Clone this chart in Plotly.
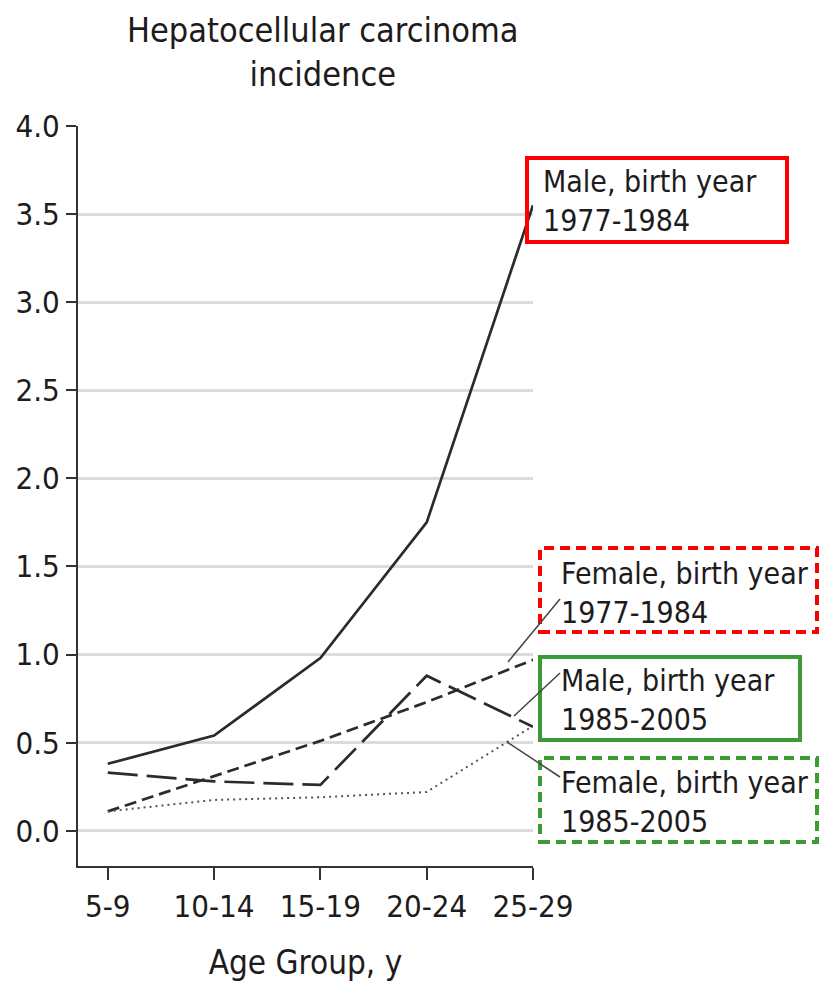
import plotly.graph_objects as go

age_groups = ['5-9', '10-14', '15-19', '20-24', '25-29']
male_1977 = [0.38, 0.54, 0.98, 1.75, 3.55]
female_1977 = [0.11, 0.31, 0.51, 0.73, 0.97]
male_1985 = [0.33, 0.28, 0.26, 0.88, 0.59]
female_1985 = [0.11, 0.175, 0.19, 0.22, 0.595]
y_ticks = [0.0, 0.5, 1.0, 1.5, 2.0, 2.5, 3.0, 3.5, 4.0]

FONT = "DejaVu Sans Condensed, Liberation Sans Narrow, sans-serif"
TEXT = '#1e1b1c'
LINE = '#2b2b2b'

# the page body adds an 8px margin, so the figure is drawn 8px in from the window corner
OFF = 8
W, H = 827 - OFF, 982 - OFF
L, R, T, B = 78 - OFF, 533 - OFF, 126 - OFF, 866 - OFF


def px(x):
    return (x - OFF - L) / (R - L)


def py(y):
    return (B - (y - OFF)) / (B - T)


fig = go.Figure()

fig.add_trace(go.Scatter(x=age_groups, y=male_1977, mode='lines',
                         line=dict(color=LINE, width=2.7), name='Male, birth year 1977-1984'))
fig.add_trace(go.Scatter(x=age_groups, y=female_1977, mode='lines',
                         line=dict(color=LINE, width=2.7, dash='12px,6px'), name='Female, birth year 1977-1984'))
fig.add_trace(go.Scatter(x=age_groups, y=male_1985, mode='lines',
                         line=dict(color=LINE, width=2.7, dash='30px,9px'), name='Male, birth year 1985-2005'))
fig.add_trace(go.Scatter(x=age_groups, y=female_1985, mode='lines',
                         line=dict(color='#555555', width=2, dash='2px,4px'), name='Female, birth year 1985-2005'))

# label boxes: (x0, y0, x1, y1) in window pixels, colour, dash
boxes = [
    ((527, 158, 787, 242), '#ff0000', 'solid'),
    ((540, 548, 817, 632), '#ff0000', '10px,6px'),
    ((540, 657, 800, 740), '#3d9b35', 'solid'),
    ((540, 758, 817, 842), '#3d9b35', '10px,6px'),
]
shapes = []
for (x0, y0, x1, y1), col, dash in boxes:
    shapes.append(dict(type='rect', xref='paper', yref='paper',
                       x0=px(x0), x1=px(x1), y0=py(y1), y1=py(y0),
                       line=dict(color=col, width=4, dash=dash), layer='above'))

# leader lines
leaders = [((508, 662), (560, 599)), ((514, 716), (560, 673)), ((507, 742), (560, 777))]
for (xa, ya), (xb, yb) in leaders:
    shapes.append(dict(type='line', xref='paper', yref='paper',
                       x0=px(xa), y0=py(ya), x1=px(xb), y1=py(yb),
                       line=dict(color='#444444', width=1.5), layer='above'))

labels = [
    ('Male, birth year<br>1977-1984', 541, 201),
    ('Female, birth year<br>1977-1984', 559, 593),
    ('Male, birth year<br>1985-2005', 559, 700),
    ('Female, birth year<br>1985-2005', 559, 802),
]
annotations = []
for txt, x, y in labels:
    annotations.append(dict(text=txt, xref='paper', yref='paper', x=px(x), y=py(y),
                            xanchor='left', yanchor='middle', align='left', showarrow=False,
                            font=dict(family=FONT, size=30, color=TEXT)))

annotations.append(dict(text='Hepatocellular carcinoma<br>incidence', xref='paper', yref='paper',
                        x=px(323), y=py(9), xanchor='center', yanchor='top', showarrow=False,
                        borderpad=0,
                        font=dict(family=FONT, size=34, color=TEXT)))

fig.update_layout(
    width=W, height=H,
    margin=dict(l=L, r=W - R, t=T, b=H - B),
    plot_bgcolor='white', paper_bgcolor='white',
    font=dict(family=FONT, size=31, color=TEXT),
    showlegend=False,
    shapes=shapes,
    annotations=annotations,
    xaxis=dict(
        type='category', range=[-0.28, 4.0], automargin=False,
        showline=True, linecolor='#333333', linewidth=2,
        ticks='outside', ticklen=12, tickwidth=2, tickcolor='#333333',
        showgrid=False, zeroline=False,
        tickfont=dict(family=FONT, size=31, color=TEXT),
        title=dict(text='Age Group, y', font=dict(family=FONT, size=33, color=TEXT), standoff=30),
    ),
    yaxis=dict(
        range=[-0.2, 4.0], tickvals=y_ticks, tickformat='.1f', automargin=False,
        showline=True, linecolor='#333333', linewidth=2,
        ticks='outside', ticklen=10, tickwidth=2, tickcolor='#333333',
        showgrid=True, gridcolor='#dcdcdc', gridwidth=3, zeroline=False,
        tickfont=dict(family=FONT, size=31, color=TEXT),
    ),
)

fig.write_html("out.html")
